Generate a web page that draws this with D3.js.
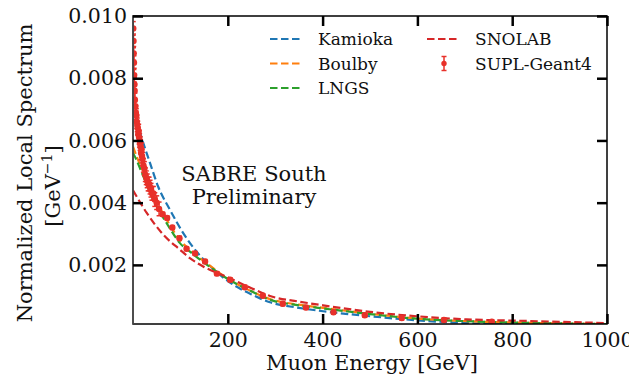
<!DOCTYPE html>
<html lang="en">
<head>
  <meta charset="UTF-8">
  <title>Muon Energy Spectrum</title>
  <script src="https://d3js.org/d3.v7.min.js"></script>
  <style>
    body { margin: 0; background: #fff; }
    svg { display: block; font-family: "DejaVu Serif", serif; }
    .axis path { display: none; }
    .axis line { stroke: #000; stroke-width: 2.5; }
    .axis text { font-size: 20.5px; fill: #111; font-family: "DejaVu Serif", serif; }
    .legend text { font-size: 17px; fill: #111; }
  </style>
</head>
<body>
  <svg width="629" height="375"></svg>

  <script>
    // model curves: energy (GeV) and normalized spectrum
    const kamiokaE = [0, 10, 20, 36, 53, 78, 106, 134, 160, 203, 250, 289, 350, 401, 500, 598, 704, 800, 900, 1000];
    const kamiokaV = [0.0070, 0.0065, 0.0060, 0.00527, 0.00452, 0.00377, 0.00302, 0.00243, 0.0020, 0.00145, 0.00105, 0.0008, 0.00062, 0.00051, 0.00035, 0.00022, 0.00013, 0.00009, 0.00007, 0.00006];

    const boulbyE = [0, 10, 22, 43, 71, 99, 124, 160, 203, 250, 289, 350, 401, 500, 598, 704, 800, 900, 1000];
    const boulbyV = [0.0058, 0.0054, 0.0050, 0.00425, 0.00345, 0.0028, 0.00244, 0.0020, 0.00153, 0.00115, 0.0009, 0.00072, 0.00062, 0.00043, 0.00028, 0.00019, 0.00015, 0.00012, 0.0001];

    const lngsE = [0, 4, 22, 43, 71, 99, 124, 160, 203, 250, 289, 350, 401, 500, 598, 704, 800, 900, 1000];
    const lngsV = [0.0056, 0.00548, 0.00484, 0.00409, 0.00334, 0.0027, 0.00238, 0.00196, 0.00152, 0.00115, 0.00088, 0.0007, 0.0006, 0.00042, 0.00027, 0.00019, 0.00015, 0.00012, 0.0001];

    const snolabE = [0, 29, 64, 99, 120, 148, 200, 250, 289, 350, 401, 500, 598, 704, 800, 900, 1000];
    const snolabV = [0.0044, 0.00367, 0.00297, 0.00249, 0.00222, 0.00195, 0.0016, 0.00125, 0.001, 0.00082, 0.0007, 0.00049, 0.00035, 0.00025, 0.00021, 0.00017, 0.00013];

    // SUPL-Geant4 simulated points
    const suplE = [0.5, 1, 1.5, 2, 2.5, 3, 3.5, 4, 5, 6, 7, 8, 9, 10, 11, 12, 13, 14, 15, 16, 17, 18, 19, 20,
      22, 24, 26, 28, 30, 32, 34, 36, 38, 40, 43, 46, 50, 55,
      62.6, 72, 83, 98, 113, 131, 152, 177, 205, 236, 274, 316, 365, 423, 489, 567, 656, 757];
    const suplV = [0.0096, 0.0092, 0.0088, 0.0085, 0.0081, 0.0078, 0.0076, 0.0073, 0.0071, 0.0069, 0.0068, 0.0066, 0.0065, 0.0064, 0.0062, 0.0063, 0.0061, 0.0060, 0.0059, 0.0058, 0.0056, 0.0057, 0.0055, 0.0054,
      0.0052, 0.0051, 0.0049, 0.0048, 0.0047, 0.0046, 0.0046, 0.0045, 0.0044, 0.0043, 0.0043, 0.0041, 0.0040, 0.0038,
      0.00363, 0.00351, 0.0032, 0.00286, 0.00252, 0.00237, 0.00211, 0.00172, 0.00152, 0.00128, 0.00101, 0.00075, 0.00063, 0.00048, 0.00038, 0.00029, 0.00023, 0.00017];
    const suplErr = suplE.map(e => e < 60 ? 0.00022 : 0.00006);

    const xTicks = [200, 400, 600, 800, 1000];
    const yTicks = [0.002, 0.004, 0.006, 0.008, 0.010];

    const curves = [
      { name: 'Kamioka', E: kamiokaE, V: kamiokaV, color: '#1f77b4' },
      { name: 'Boulby', E: boulbyE, V: boulbyV, color: '#ff7f0e' },
      { name: 'LNGS', E: lngsE, V: lngsV, color: '#2ca02c' },
      { name: 'SNOLAB', E: snolabE, V: snolabV, color: '#d62728' }
    ];
    const pointColor = '#e8312a';

    const margin = { top: 16, left: 133 };
    const width = 474;
    const height = 308;

    const svg = d3.select('svg');
    const g = svg.append('g')
      .attr('transform', `translate(${margin.left}, ${margin.top})`);

    const x = d3.scaleLinear().domain([0, 1000]).range([0, width]);
    const y = d3.scaleLinear().domain([0.0001, 0.010]).range([height, 0]);

    g.append('clipPath').attr('id', 'clip')
      .append('rect').attr('width', width).attr('height', height);

    const plot = g.append('g').attr('clip-path', 'url(#clip)');

    const line = d3.line()
      .x(d => x(d[0]))
      .y(d => y(d[1]))
      .curve(d3.curveMonotoneX);

    curves.forEach(c => {
      plot.append('path')
        .datum(c.E.map((e, i) => [e, c.V[i]]))
        .attr('d', line)
        .attr('fill', 'none')
        .attr('stroke', c.color)
        .attr('stroke-width', 2.2)
        .attr('stroke-dasharray', '7.5,3.5');
    });

    const pts = suplE.map((e, i) => ({ e, v: suplV[i], err: suplErr[i] }));

    plot.selectAll('.err')
      .data(pts)
      .enter()
      .append('line')
      .attr('x1', d => x(d.e))
      .attr('x2', d => x(d.e))
      .attr('y1', d => y(d.v - d.err))
      .attr('y2', d => y(d.v + d.err))
      .attr('stroke', pointColor)
      .attr('stroke-width', 1.5);

    plot.selectAll('.cap')
      .data(pts.flatMap(d => [d.v - d.err, d.v + d.err].map(v => ({ e: d.e, v }))))
      .enter()
      .append('line')
      .attr('x1', d => x(d.e) - 2.5)
      .attr('x2', d => x(d.e) + 2.5)
      .attr('y1', d => y(d.v))
      .attr('y2', d => y(d.v))
      .attr('stroke', pointColor)
      .attr('stroke-width', 1.5);

    plot.selectAll('.pt')
      .data(pts)
      .enter()
      .append('circle')
      .attr('cx', d => x(d.e))
      .attr('cy', d => y(d.v))
      .attr('r', 3.2)
      .attr('fill', pointColor);

    // frame
    g.append('rect')
      .attr('width', width).attr('height', height)
      .attr('fill', 'none').attr('stroke', '#000').attr('stroke-width', 1.5);
    g.append('line')
      .attr('x1', 0).attr('x2', 0).attr('y1', 0).attr('y2', height)
      .attr('stroke', '#555').attr('stroke-width', 1.5);

    // axes, ticks pointing inward
    g.append('g').attr('class', 'axis')
      .attr('transform', `translate(0, ${height})`)
      .call(d3.axisBottom(x).tickValues(xTicks).tickSizeInner(-10).tickSizeOuter(0).tickPadding(8)
        .tickFormat(d3.format('d')));

    g.append('g').attr('class', 'axis')
      .call(d3.axisTop(x).tickValues(xTicks).tickSizeInner(-10).tickSizeOuter(0).tickFormat(''));

    g.append('g').attr('class', 'axis')
      .call(d3.axisLeft(y).tickValues(yTicks).tickSizeInner(-10).tickSizeOuter(0).tickPadding(6)
        .tickFormat(d3.format('.3f')));

    g.append('g').attr('class', 'axis')
      .attr('transform', `translate(${width}, 0)`)
      .call(d3.axisRight(y).tickValues(yTicks).tickSizeInner(-10).tickSizeOuter(0).tickFormat(''));

    // axis titles
    svg.append('text')
      .attr('x', margin.left + width / 2 + 2)
      .attr('y', 370)
      .attr('text-anchor', 'middle')
      .attr('font-size', 21)
      .attr('fill', '#111')
      .text('Muon Energy [GeV]');

    const yl = svg.append('text')
      .attr('transform', 'translate(32, 173) rotate(-90)')
      .attr('text-anchor', 'middle')
      .attr('font-size', 21)
      .attr('fill', '#111');
    yl.append('tspan').attr('x', 0).attr('y', 0).text('Normalized Local Spectrum');
    const l2 = yl.append('tspan').attr('x', -13).attr('y', 28);
    l2.append('tspan').text('[GeV');
    l2.append('tspan').attr('dy', -8).attr('font-size', 14).text('−1');
    l2.append('tspan').attr('dy', 8).text(']');

    // annotation
    const ann = svg.append('text')
      .attr('text-anchor', 'middle')
      .attr('font-size', 21)
      .attr('fill', '#111');
    ann.append('tspan').attr('x', 254).attr('y', 181).text('SABRE South');
    ann.append('tspan').attr('x', 254).attr('y', 204).text('Preliminary');

    // legend
    const legend = svg.append('g').attr('class', 'legend');
    const entries = [
      { name: 'Kamioka', color: '#1f77b4', col: 0, row: 0 },
      { name: 'Boulby', color: '#ff7f0e', col: 0, row: 1 },
      { name: 'LNGS', color: '#2ca02c', col: 0, row: 2 },
      { name: 'SNOLAB', color: '#d62728', col: 1, row: 0 },
      { name: 'SUPL-Geant4', color: pointColor, col: 1, row: 1, points: true }
    ];
    entries.forEach(en => {
      const lx = en.col === 0 ? 270 : 427;
      const ly = 39 + en.row * 24.5;
      const item = legend.append('g').attr('transform', `translate(${lx}, ${ly})`);
      if (en.points) {
        item.append('line').attr('x1', 17).attr('x2', 17).attr('y1', -7).attr('y2', 7)
          .attr('stroke', en.color).attr('stroke-width', 1.5);
        item.append('line').attr('x1', 14.5).attr('x2', 19.5).attr('y1', -7).attr('y2', -7)
          .attr('stroke', en.color).attr('stroke-width', 1.5);
        item.append('line').attr('x1', 14.5).attr('x2', 19.5).attr('y1', 7).attr('y2', 7)
          .attr('stroke', en.color).attr('stroke-width', 1.5);
        item.append('circle').attr('cx', 17).attr('cy', 0).attr('r', 2.7).attr('fill', en.color);
      } else {
        item.append('line').attr('x1', 0).attr('x2', 32).attr('y1', 0).attr('y2', 0)
          .attr('stroke', en.color).attr('stroke-width', 2.2).attr('stroke-dasharray', '7.5,3.5');
      }
      item.append('text').attr('x', 48).attr('y', 6).text(en.name);
    });
  </script>
</body>
</html>
